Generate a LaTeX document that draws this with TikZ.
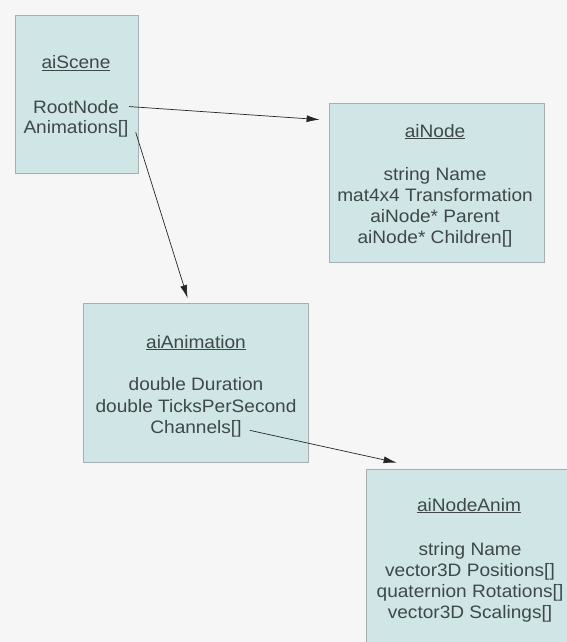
\documentclass[tikz,border=0pt]{standalone}
\usepackage{fontspec}
\setmainfont{Liberation Sans}[FakeStretch=1.06]
\usetikzlibrary{arrows.meta}
\definecolor{boxfill}{RGB}{208,230,230}
\definecolor{boxline}{RGB}{165,175,175}
\definecolor{textgray}{RGB}{62,72,72}
\definecolor{bggray}{RGB}{246,246,246}
\begin{document}
\begin{tikzpicture}[x=1pt,y=-1pt,
  box/.style={draw=boxline, fill=boxfill, line width=0.8pt, inner sep=0pt},
  lbl/.style={text=textgray, font=\fontsize{18}{21}\selectfont, inner sep=0pt, anchor=base},
  conn/.style={-{Latex[length=13pt,width=7pt]}, line width=0.7pt, black!85}]
\fill[bggray] (0,0) rectangle (567,642);
\useasboundingbox (0,0) rectangle (567,642);
% boxes
\node[box, minimum width=123pt, minimum height=158pt] (scene) at (76.5,94) {};
\node[box, minimum width=215pt, minimum height=159pt] (ainode) at (436.5,182.5) {};
\node[box, minimum width=225pt, minimum height=159pt] (anim) at (195.5,383) {};
\node[box, minimum width=208pt, minimum height=181pt] (nodeanim) at (470,559.5) {};
% aiScene
\node[lbl] (scenetitle) at (76,69) {\underline{aiScene}};
\node[lbl] (rootnode) at (76,113) {RootNode};
\node[lbl] (animations) at (76,133) {Animations[]};
% aiNode
\node[lbl] (nodetitle) at (435,137) {\underline{aiNode}};
\node[lbl] (nodename) at (435,180) {string Name};
\node[lbl] (nodetrafo) at (435,201) {mat4x4 Transformation};
\node[lbl] (nodeparent) at (435,222) {aiNode* Parent};
\node[lbl] (nodechildren) at (435,243) {aiNode* Children[]};
% aiAnimation
\node[lbl] (animtitle) at (196,348) {\underline{aiAnimation}};
\node[lbl] (duration) at (196,390) {double Duration};
\node[lbl] (ticks) at (196,412) {double TicksPerSecond};
\node[lbl] (channels) at (196,433) {Channels[]};
% aiNodeAnim
\node[lbl] (nodeanimtitle) at (469,511) {\underline{aiNodeAnim}};
\node[lbl] (animname) at (470,555) {string Name};
\node[lbl] (positions) at (470,576) {vector3D Positions[]};
\node[lbl] (rotations) at (470,597) {quaternion Rotations[]};
\node[lbl] (scalings) at (470,618) {vector3D Scalings[]};
% connectors
\draw[conn] ([xshift=10pt]rootnode.east) -- ([shift={(-9pt,-17pt)}]ainode.north west);
\draw[conn] ([shift={(7pt,-4pt)}]animations.east) -- ([shift={(105pt,5pt)}]anim.north west);
\draw[conn] ([shift={(8pt,-2pt)}]channels.east) -- ([shift={(31pt,6pt)}]nodeanim.north west);
\end{tikzpicture}
\end{document}
